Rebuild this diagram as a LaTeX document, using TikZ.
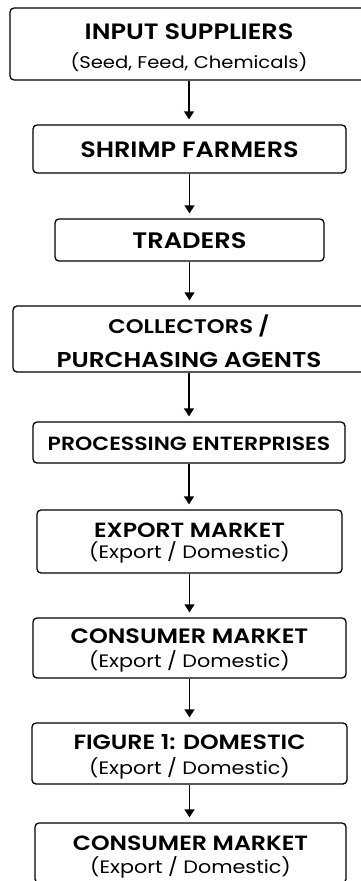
\documentclass[tikz,border=0pt]{standalone}
\usepackage{fontspec}
\setmainfont{Poppins}[BoldFont={Poppins SemiBold}, FakeStretch=1.15]
\usetikzlibrary{arrows.meta}

\newcommand{\stagefont}[1]{\fontsize{19}{#1}\selectfont}
\newcommand{\stagehead}[2][20]{{\fontsize{#1}{#1}\selectfont\bfseries #2}}
\newcommand{\stagenote}[2][18]{{\fontsize{#1}{#1}\selectfont #2}}

\tikzset{
  stage/.style={draw, line width=1.3pt, rounded corners=4pt, align=center,
    inner sep=0pt, text height=0pt, text depth=0pt, font=\stagefont{24}},
  flow/.style={-{Triangle[length=8pt,width=10pt]}, line width=1.3pt, shorten >=5pt},
}

\begin{document}
\begin{tikzpicture}[x=1pt,y=-1pt]

  \useasboundingbox (0,0) rectangle (361,881);

  % stages
  \node [stage, minimum width=358pt, minimum height=72pt, text height=48pt, font=\stagefont{29}]
    (input) at (189,44) {\stagehead[22.2]{INPUT SUPPLIERS}\\\stagenote[17]{(Seed, Feed, Chemicals)}};
  \node [stage, minimum width=313pt, minimum height=48pt, text height=16pt]
    (farmers) at (189.5,149) {\stagehead[22.2]{SHRIMP FARMERS}};
  \node [stage, minimum width=269pt, minimum height=42pt, text height=16pt]
    (traders) at (189.5,240) {\stagehead[22.4]{TRADERS}};
  \node [stage, minimum width=352pt, minimum height=66pt, text height=56pt, font=\stagefont{34}]
    (collectors) at (189,339) {\stagehead[19.7]{COLLECTORS /}\\\stagehead[21.5]{PURCHASING AGENTS}};
  \node [stage, minimum width=312pt, minimum height=41pt, text height=15pt]
    (processing) at (189,442.5) {\stagehead[19.1]{PROCESSING ENTERPRISES}};
  \node [stage, minimum width=305pt, minimum height=63pt, text height=33pt, font=\stagefont{21}]
    (export) at (189.5,541.5) {\stagehead[20.5]{EXPORT MARKET}\\\stagenote{(Export / Domestic)}};
  \node [stage, minimum width=313pt, minimum height=60pt, text height=38pt, font=\stagefont{24}]
    (consumer) at (189.5,648) {\stagehead[20.8]{CONSUMER MARKET}\\\stagenote{(Export / Domestic)}};
  \node [stage, minimum width=315pt, minimum height=61pt, text height=41pt, font=\stagefont{25}]
    (figure) at (189.5,753.5) {\stagehead[20.6]{FIGURE 1: DOMESTIC}\\\stagenote{(Export / Domestic)}};
  \node [stage, minimum width=311pt, minimum height=60pt, text height=40pt, font=\stagefont{23}]
    (consumer2) at (190.5,853) {\stagehead[20.6]{CONSUMER MARKET}\\\stagenote{(Export / Domestic)}};

  % flows
  \draw [flow] (input.south) -- (input.south |- farmers.north);
  \draw [flow] (farmers.south) -- (farmers.south |- traders.north);
  \draw [flow] (traders.south) -- (traders.south |- collectors.north);
  \draw [flow] (collectors.south) -- (collectors.south |- processing.north);
  \draw [flow] (processing.south) -- (processing.south |- export.north);
  \draw [flow] (export.south) -- (export.south |- consumer.north);
  \draw [flow] (consumer.south) -- (consumer.south |- figure.north);
  \draw [flow] (figure.south) -- (figure.south |- consumer2.north);

\end{tikzpicture}
\end{document}
